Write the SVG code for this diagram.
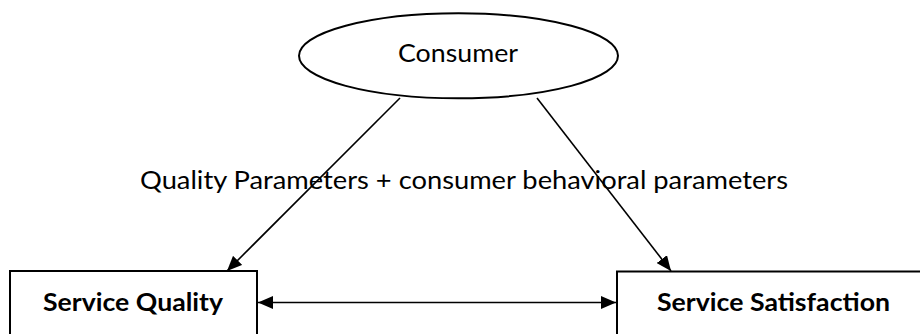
<svg xmlns="http://www.w3.org/2000/svg" width="920" height="334" viewBox="0 0 920 334">
  <style>
    .shape { fill: #ffffff; stroke: #000000; stroke-width: 2; }
    .conn { fill: none; stroke: #000000; stroke-width: 1.6; }
    .reg { font-family: Lato, "Open Sans", sans-serif; font-size: 25px; fill: #000000; }
    .bold { font-family: Lato, "Open Sans", sans-serif; font-size: 25px; font-weight: bold; fill: #000000; }
  </style>
  <defs>
    <marker id="arrow" viewBox="0 0 15 13" refX="15" refY="6.5" markerWidth="15" markerHeight="13" markerUnits="userSpaceOnUse" orient="auto-start-reverse">
      <path d="M0,0 L15,6.5 L0,13 z" fill="#000000"/>
    </marker>
  </defs>
  <rect width="920" height="334" fill="#ffffff"/>

  <g id="consumer">
    <ellipse class="shape" cx="458.5" cy="55.8" rx="159.5" ry="42.5"/>
    <text class="reg" x="458" y="62" text-anchor="middle" textLength="120" lengthAdjust="spacingAndGlyphs">Consumer</text>
  </g>

  <g id="service-quality">
    <rect class="shape" x="10" y="271" width="247" height="100"/>
    <text class="bold" x="43" y="311" textLength="180" lengthAdjust="spacingAndGlyphs">Service Quality</text>
  </g>

  <g id="service-satisfaction">
    <rect class="shape" x="617" y="271.5" width="330" height="100"/>
    <text class="bold" x="657" y="311" textLength="233" lengthAdjust="spacingAndGlyphs">Service Satisfaction</text>
  </g>

  <g id="connectors">
    <line class="conn" x1="400" y1="98" x2="227" y2="271" marker-end="url(#arrow)"/>
    <line class="conn" x1="537" y1="98" x2="671" y2="271" marker-end="url(#arrow)"/>
    <line class="conn" x1="258" y1="302.5" x2="616" y2="302.5" marker-start="url(#arrow)" marker-end="url(#arrow)"/>
  </g>

  <g id="label">
    <text class="reg" x="140" y="189" textLength="648" lengthAdjust="spacingAndGlyphs">Quality Parameters + consumer behavioral parameters</text>
  </g>
</svg>
